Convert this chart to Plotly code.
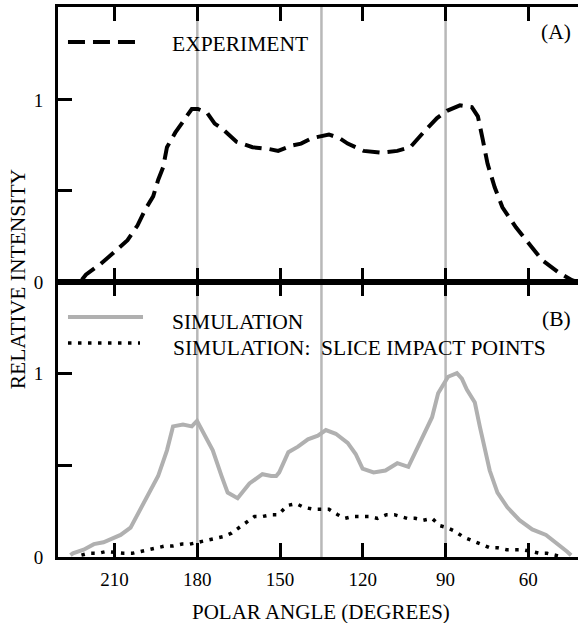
import plotly.graph_objects as go
from plotly.subplots import make_subplots

# ---------------- data ----------------
exp_angle = [230.5, 222.5, 220.4, 215, 210.4, 205.3, 201.7, 198.8, 196, 194.2,
             192.4, 191, 188, 185.2, 182, 179.8, 176.5, 173.7, 170.8, 165.8,
             160, 153.9, 150.7, 145.6, 142.4, 138.4, 135.2, 132.3, 128.5, 125.5,
             119.7, 113.6, 107.5, 102.8, 98.1, 93.1, 89.5, 84.8, 80.5, 78.3,
             76.5, 74.8, 72.2, 69.4, 64.5, 59.6, 55, 48.8, 44.2, 42]
exp_val = [0, 0, 0.04, 0.10, 0.16, 0.23, 0.31, 0.40, 0.47, 0.56,
           0.63, 0.74, 0.82, 0.88, 0.95, 0.95, 0.93, 0.87, 0.84, 0.77,
           0.74, 0.73, 0.72, 0.75, 0.76, 0.79, 0.80, 0.81, 0.79, 0.76,
           0.72, 0.71, 0.72, 0.74, 0.82, 0.90, 0.94, 0.97, 0.96, 0.91,
           0.78, 0.65, 0.52, 0.41, 0.30, 0.21, 0.12, 0.05, 0.01, 0]

sim_angle = [226, 225.1, 221.2, 217.5, 214, 210.4, 207.8, 204.2, 200.6, 197.8,
             194.2, 191, 188.8, 185.2, 182, 180.1, 178, 174.4, 171.2, 169,
             165.4, 161.1, 156.4, 153.2, 151.4, 150.3, 147, 143.5, 139.9, 136.3,
             133.4, 129.8, 125.5, 122.6, 120.1, 116.1, 111.8, 107.5, 103.5, 101,
             98.1, 94.9, 92.7, 89.1, 85.9, 84.1, 82.3, 79.4, 77.6, 75.8,
             74, 71.2, 67.6, 63.2, 58.6, 53.6, 50, 46, 44.5]
sim_val = [0.01, 0.02, 0.04, 0.07, 0.08, 0.10, 0.12, 0.16, 0.26, 0.33,
           0.44, 0.58, 0.71, 0.72, 0.71, 0.74, 0.68, 0.58, 0.44, 0.35,
           0.32, 0.40, 0.45, 0.44, 0.44, 0.46, 0.57, 0.60, 0.64, 0.66,
           0.69, 0.67, 0.62, 0.56, 0.48, 0.46, 0.47, 0.51, 0.49, 0.57,
           0.65, 0.76, 0.89, 0.98, 1.00, 0.97, 0.91, 0.84, 0.71, 0.58,
           0.47, 0.35, 0.27, 0.20, 0.15, 0.12, 0.08, 0.03, 0.01]

slice_angle = [222, 219.4, 216, 213, 206.8, 203.5, 200.6, 197.8, 194.5, 191.6,
               188.8, 185.5, 182.7, 179.8, 176.5, 173.7, 170.8, 167.6, 164.7, 162.2,
               159.3, 156.4, 153.2, 150.6, 147.4, 144.2, 141.3, 138.1, 135.2, 132.3,
               129.1, 126.5, 123.7, 120.4, 117.6, 114.7, 111.4, 108.6, 106.4, 103.9,
               101, 98.1, 94.9, 92, 89.5, 86.6, 83.7, 80.5, 77.6, 74,
               71.2, 67.9, 65, 62.2, 58.9, 56, 53.2, 50, 47.5]
slice_val = [0.01, 0.02, 0.02, 0.03, 0.02, 0.02, 0.03, 0.04, 0.05, 0.06,
             0.06, 0.07, 0.07, 0.08, 0.09, 0.10, 0.11, 0.13, 0.16, 0.19,
             0.22, 0.22, 0.23, 0.23, 0.28, 0.29, 0.27, 0.26, 0.26, 0.26,
             0.23, 0.21, 0.22, 0.22, 0.22, 0.21, 0.23, 0.23, 0.22, 0.21,
             0.21, 0.20, 0.21, 0.17, 0.16, 0.14, 0.11, 0.09, 0.07, 0.05,
             0.05, 0.04, 0.04, 0.04, 0.03, 0.02, 0.02, 0.01, 0.0]

x_ticks = [210, 180, 150, 120, 90, 60]
y_ticks = [0, 0.5, 1]
y_ticktext = ["0", "", "1"]
ref_angles = [180, 135, 90]

FONT = "Times New Roman, Liberation Serif, DejaVu Serif, serif"
GRAY = "#b0b0b0"
DASH = "17px,8px"
DOT = "3.5px,6.5px"

fig = make_subplots(rows=2, cols=1, shared_xaxes=True, vertical_spacing=0)

fig.add_trace(go.Scatter(x=exp_angle, y=exp_val, mode="lines",
                         line=dict(color="black", width=4, dash=DASH),
                         name="EXPERIMENT", showlegend=False), row=1, col=1)
fig.add_trace(go.Scatter(x=sim_angle, y=sim_val, mode="lines",
                         line=dict(color=GRAY, width=4),
                         name="SIMULATION", showlegend=False), row=2, col=1)
fig.add_trace(go.Scatter(x=slice_angle, y=slice_val, mode="lines",
                         line=dict(color="black", width=3.5, dash=DOT),
                         name="SIMULATION:  SLICE IMPACT POINTS", showlegend=False),
              row=2, col=1)

# vertical reference lines across both panels
for a in ref_angles:
    fig.add_shape(type="line", xref="x2", yref="paper", x0=a, x1=a, y0=0, y1=1,
                  line=dict(color="#b8b8b8", width=2.5), layer="below")

xcommon = dict(range=[230.5, 42], showline=True, linewidth=3, linecolor="black",
               mirror="ticks", ticks="inside", ticklen=14, tickwidth=3,
               tickcolor="black", tickvals=x_ticks, showgrid=False, zeroline=False,
               tickfont=dict(family=FONT, size=19, color="black"))
fig.update_xaxes(**xcommon)
fig.update_xaxes(showticklabels=False, row=1, col=1)
fig.update_xaxes(showticklabels=True, ticklabelstandoff=3, row=2, col=1)

ycommon = dict(showline=True, linewidth=3, linecolor="black", ticks="inside",
               ticklen=14, tickwidth=3, tickcolor="black", tickvals=y_ticks,
               ticktext=y_ticktext, showgrid=False, zeroline=False,
               ticklabelstandoff=8,
               tickfont=dict(family=FONT, size=19, color="black"))
fig.update_yaxes(range=[0, 1.51], row=1, col=1, **ycommon)
fig.update_yaxes(range=[0, 1.495], row=2, col=1, **ycommon)

# legend samples (manual)
fig.add_shape(type="line", xref="paper", yref="paper", x0=0.0192, x1=0.1577,
              y0=0.9364, y1=0.9364, line=dict(color="black", width=4, dash=DASH))
fig.add_shape(type="line", xref="paper", yref="paper", x0=0.0192, x1=0.1635,
              y0=0.4364, y1=0.4364, line=dict(color=GRAY, width=4))
fig.add_shape(type="line", xref="paper", yref="paper", x0=0.0192, x1=0.1577,
              y0=0.389, y1=0.389, line=dict(color="black", width=3.5, dash=DOT))

tfont = dict(family=FONT, size=21.5, color="black")
annos = [
    dict(text="EXPERIMENT", x=0.215, y=0.9336, xanchor="left", yanchor="middle"),
    dict(text="SIMULATION", x=0.215, y=0.4273, xanchor="left", yanchor="middle"),
    dict(text="SIMULATION:&nbsp; SLICE IMPACT POINTS", x=0.2175, y=0.38,
         xanchor="left", yanchor="middle"),
    dict(text="(A)", x=0.9577, y=0.955, xanchor="center", yanchor="middle"),
    dict(text="(B)", x=0.9577, y=0.4327, xanchor="center", yanchor="middle"),
    dict(text="RELATIVE INTENSITY", x=-0.0769, y=0.505, xanchor="center",
         yanchor="middle", textangle=-90),
]
for a in annos:
    fig.add_annotation(xref="paper", yref="paper", showarrow=False, font=tfont, **a)

fig.add_annotation(xref="paper", yref="paper", showarrow=False,
                   font=dict(family=FONT, size=21, color="black"),
                   text="POLAR ANGLE (DEGREES)", x=0.505, y=-0.1,
                   xanchor="center", yanchor="middle")

fig.update_layout(width=580, height=623, margin=dict(l=58, r=2, t=7, b=66),
                  plot_bgcolor="white", paper_bgcolor="white",
                  font=dict(family=FONT, color="black"), showlegend=False)

fig.write_html("out.html", config={"displayModeBar": False},
               post_script="document.body.style.margin='0';"
                           "document.body.style.padding='0';"
                           "document.body.style.overflow='hidden';")
